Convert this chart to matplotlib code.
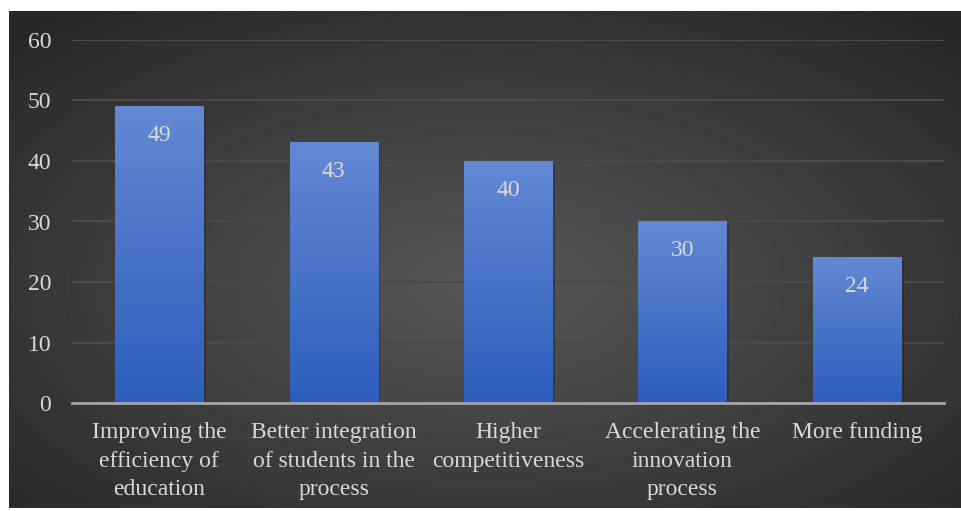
import numpy as np
import matplotlib
matplotlib.use('Agg')
import matplotlib.pyplot as plt
import matplotlib.patheffects as pe
from matplotlib.colors import LinearSegmentedColormap

categories = ['Improving the\nefficiency of\neducation',
              'Better integration\nof students in the\nprocess',
              'Higher\ncompetitiveness',
              'Accelerating the\ninnovation\nprocess',
              'More funding']
values = [49, 43, 40, 30, 24]
y_ticks = [0, 10, 20, 30, 40, 50, 60]

plt.rcParams['font.family'] = 'serif'
plt.rcParams['font.serif'] = ['Liberation Serif', 'DejaVu Serif']

fig = plt.figure(figsize=(9.62, 5.11), dpi=100)
fig.patch.set_facecolor('white')

# dark radial backdrop
bg = fig.add_axes([9/962, 3/511, 953/962, 497/511])
bg.set_axis_off()
h, w = 497, 953
yy, xx = np.mgrid[0:h, 0:w]
cx, cy = 0.5*w, 0.55*h
r = np.sqrt(((xx-cx)/(w/2))**2 + ((yy-cy)/(h/2))**2) / np.sqrt(2)
shade = 0.345 - 0.19*np.clip(r, 0, 1)
bg.imshow(shade, cmap='gray', vmin=0, vmax=1, aspect='auto', interpolation='bilinear')

ax = fig.add_axes([72/962, 108/511, 872/962, 363/511])
ax.set_facecolor('none')

x = np.arange(len(values))
bars = ax.bar(x, values, width=0.505, color='#2d5ebc', zorder=2)
for b in bars:
    b.set_path_effects([pe.SimplePatchShadow(offset=(2, -2), alpha=0.35), pe.Normal()])

# vertical gradient fill on each bar
grad = np.linspace(0, 1, 256).reshape(-1, 1)
bar_cmap = LinearSegmentedColormap.from_list('bar', ['#2d5ebc', '#6389d4'])
for b in bars:
    x0, y0 = b.get_x(), b.get_y()
    ax.imshow(grad, cmap=bar_cmap, origin='lower', aspect='auto',
              extent=[x0, x0 + b.get_width(), y0, y0 + b.get_height()], zorder=3)

for xi, v in zip(x, values):
    ax.annotate(str(v), (xi, v), xytext=(0, -29), textcoords='offset pixels',
                ha='center', va='center', fontsize=17, color='#d9d9d9', zorder=4)

ax.set_xlim(-0.5, len(values) - 0.5)
ax.set_ylim(0, 60)
ax.set_yticks(y_ticks)
ax.set_xticks(x)
ax.set_xticklabels(categories, linespacing=1.45)
ax.tick_params(axis='both', length=0, labelsize=17, labelcolor='#d9d9d9')
ax.tick_params(axis='y', pad=15)
ax.tick_params(axis='x', pad=14)

ax.yaxis.grid(True, color='#4a4a4a', linewidth=1.5)
ax.set_axisbelow(True)
for s in ['top', 'right', 'left']:
    ax.spines[s].set_visible(False)
ax.spines['bottom'].set_color('#a6a6a6')
ax.spines['bottom'].set_linewidth(2)
ax.spines['bottom'].set_zorder(5)

fig.savefig('out.png', dpi=100)
